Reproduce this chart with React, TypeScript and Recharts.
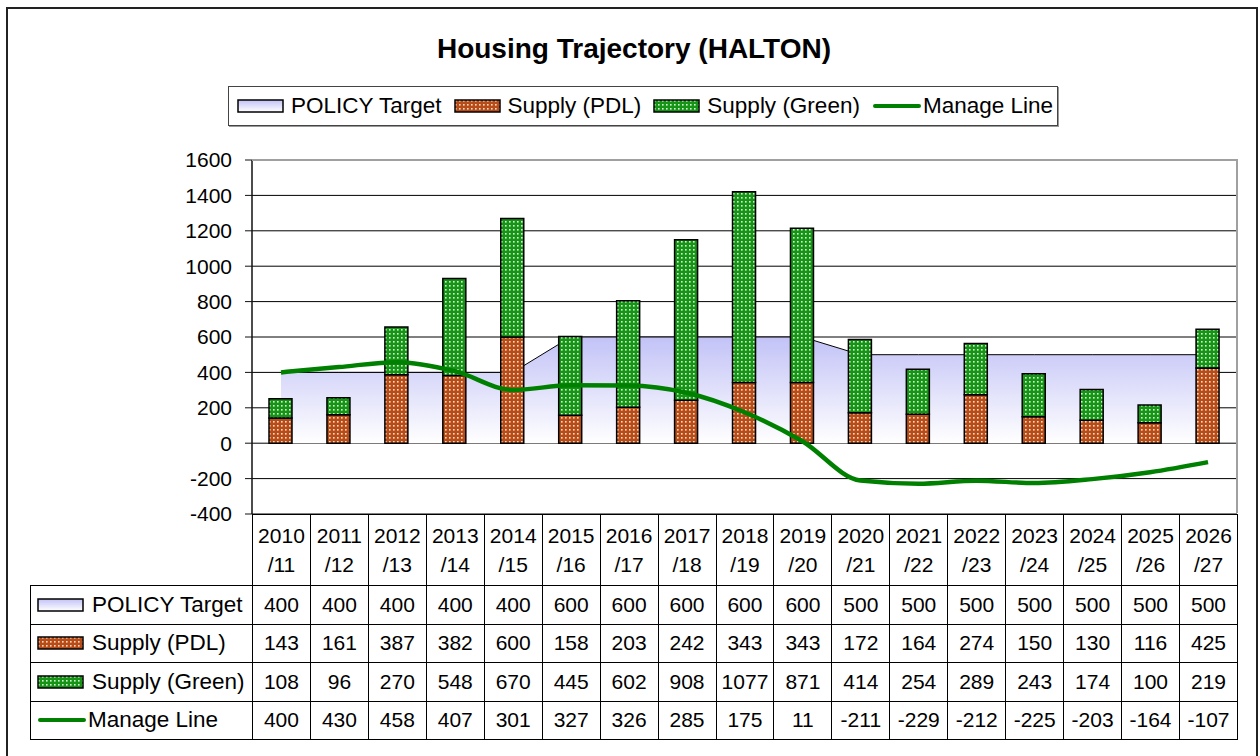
import { ComposedChart, Area, Bar, Line, XAxis, YAxis, CartesianGrid } from 'recharts'

const categories = [
  '2010/11', '2011/12', '2012/13', '2013/14', '2014/15', '2015/16', '2016/17', '2017/18', '2018/19',
  '2019/20', '2020/21', '2021/22', '2022/23', '2023/24', '2024/25', '2025/26', '2026/27',
]
const policyTarget = [400, 400, 400, 400, 400, 600, 600, 600, 600, 600, 500, 500, 500, 500, 500, 500, 500]
const supplyPDL = [143, 161, 387, 382, 600, 158, 203, 242, 343, 343, 172, 164, 274, 150, 130, 116, 425]
const supplyGreen = [108, 96, 270, 548, 670, 445, 602, 908, 1077, 871, 414, 254, 289, 243, 174, 100, 219]
const manageLine = [400, 430, 458, 407, 301, 327, 326, 285, 175, 11, -211, -229, -212, -225, -203, -164, -107]
const yTicks = [-400, -200, 0, 200, 400, 600, 800, 1000, 1200, 1400, 1600]

const data = categories.map((cat, i) => ({
  cat,
  policy: policyTarget[i],
  pdl:    supplyPDL[i],
  green:  supplyGreen[i],
  manage: manageLine[i],
}))

const FONT = '"Liberation Sans", Arial, Helvetica, sans-serif'
const PLOT_LEFT = 252
const PLOT_RIGHT = 1237
const PLOT_TOP = 160
const PLOT_BOTTOM = 514
const Y_W = 80
const COL_W = (PLOT_RIGHT - PLOT_LEFT) / categories.length
const LEGEND_COL = PLOT_LEFT - 30

type Kind = 'policy' | 'pdl' | 'green' | 'line'

const series: { kind: Kind, name: string, values: number[] }[] = [
  { kind: 'policy', name: 'POLICY Target',  values: policyTarget },
  { kind: 'pdl',    name: 'Supply (PDL)',   values: supplyPDL },
  { kind: 'green',  name: 'Supply (Green)', values: supplyGreen },
  { kind: 'line',   name: 'Manage Line',    values: manageLine },
]

function Swatch({ kind }: { kind: Kind }) {
  if (kind === 'line') {
    return (
      <svg width={50} height={14} style={{ display: 'block', flex: 'none' }}>
        <line x1={3} y1={7} x2={47} y2={7} stroke="#008000" strokeWidth={4} strokeLinecap="round" />
      </svg>
    )
  }
  const fill = kind === 'policy' ? 'url(#policyFill)' : kind === 'pdl' ? 'url(#pdlDots)' : 'url(#greenDots)'
  return (
    <svg width={48} height={14} style={{ display: 'block', flex: 'none' }}>
      <rect x={1} y={1} width={45} height={12} fill={fill} stroke="#000" strokeWidth={1.5} />
    </svg>
  )
}

const cellBorder = '1px solid #000'

export default function App() {
  return (
    <div style={{ position: 'absolute', left: 0, top: 0, width: 1260, height: 756, overflow: 'hidden', background: '#fff', fontFamily: FONT, color: '#000' }}>
      <svg width={0} height={0} style={{ position: 'absolute' }}>
        <defs>
          <linearGradient id="policyFill" x1="0" y1="0" x2="0" y2="1">
            <stop offset="0%" stopColor="#c2c2f7" />
            <stop offset="100%" stopColor="#ffffff" />
          </linearGradient>
          <pattern id="pdlDots" width="4" height="4" patternUnits="userSpaceOnUse">
            <rect width="4" height="4" fill="#b84c18" />
            <rect x="1" y="1" width="1.6" height="1.6" fill="#f7dcc6" />
          </pattern>
          <pattern id="greenDots" width="4" height="4" patternUnits="userSpaceOnUse">
            <rect width="4" height="4" fill="#169416" />
            <rect x="1" y="1" width="1.6" height="1.6" fill="#d4f7d4" />
          </pattern>
        </defs>
      </svg>

      {/* outer chart frame */}
      <div style={{ position: 'absolute', left: 6, top: 7, width: 1252, height: 760, border: '2px solid #222', boxSizing: 'border-box' }} />

      <div style={{ position: 'absolute', left: 4, top: 33, width: 1260, textAlign: 'center', fontSize: 28, fontWeight: 'bold', lineHeight: '32px' }}>
        Housing Trajectory (HALTON)
      </div>

      <div style={{
        position: 'absolute', left: 228, top: 86, width: 830, height: 40, boxSizing: 'border-box',
        border: '1px solid #444', boxShadow: '1px 1px 0 #999', display: 'flex', alignItems: 'center',
        paddingLeft: 8, fontSize: 22.5, whiteSpace: 'nowrap',
      }}>
        {series.map(s => (
          <div key={s.kind} style={{ display: 'flex', alignItems: 'center', marginRight: 12 }}>
            <Swatch kind={s.kind} />
            <span style={{ marginLeft: s.kind === 'line' ? 1 : 6 }}>{s.name}</span>
          </div>
        ))}
      </div>

      <div style={{ position: 'absolute', left: 0, top: 0 }}>
        <ComposedChart
          width={1260}
          height={756}
          data={data}
          margin={{ top: PLOT_TOP, bottom: 756 - PLOT_BOTTOM, left: PLOT_LEFT - Y_W, right: 1260 - PLOT_RIGHT }}
        >
          <CartesianGrid horizontal vertical={false} stroke="#000" strokeWidth={1} />
          <XAxis dataKey="cat" hide />
          <YAxis
            width={Y_W}
            domain={[-400, 1600]}
            ticks={yTicks}
            interval={0}
            tickSize={7}
            tickMargin={13}
            axisLine={{ stroke: '#111', strokeWidth: 1.5 }}
            tickLine={{ stroke: '#111' }}
            tick={{ fill: '#000', fontSize: 21, fontFamily: FONT }}
          />
          <Area
            type="linear"
            dataKey="policy"
            baseValue={0}
            stroke="#000"
            strokeWidth={1}
            fill="url(#policyFill)"
            fillOpacity={1}
            isAnimationActive={false}
          />
          <Bar dataKey="pdl" stackId="s" barSize={23} fill="url(#pdlDots)" stroke="#000" strokeWidth={1.5} isAnimationActive={false} />
          <Bar dataKey="green" stackId="s" barSize={23} fill="url(#greenDots)" stroke="#000" strokeWidth={1.5} isAnimationActive={false} />
          <Line
            type="monotone"
            dataKey="manage"
            stroke="#008000"
            strokeWidth={4.5}
            dot={false}
            activeDot={false}
            isAnimationActive={false}
          />
        </ComposedChart>
      </div>

      {/* plot area frame (top and right edges) */}
      <div style={{
        position: 'absolute', left: PLOT_LEFT, top: PLOT_TOP - 1, width: PLOT_RIGHT - PLOT_LEFT + 1,
        height: PLOT_BOTTOM - PLOT_TOP, borderTop: '2px solid #a0a0a0', borderRight: '2px solid #a0a0a0',
        boxSizing: 'border-box', pointerEvents: 'none',
      }} />

      <table style={{
        position: 'absolute', left: 30, top: PLOT_BOTTOM, width: PLOT_RIGHT - 30 + 1,
        borderCollapse: 'collapse', tableLayout: 'fixed', fontSize: 21, fontFamily: FONT,
      }}>
        <colgroup>
          <col style={{ width: LEGEND_COL }} />
          {categories.map(c => <col key={c} style={{ width: COL_W }} />)}
        </colgroup>
        <tbody>
          <tr style={{ height: 71 }}>
            <td style={{ border: 'none', padding: 0 }} />
            {categories.map(c => {
              const [yr, rest] = c.split('/')
              return (
                <td key={c} style={{ border: cellBorder, padding: 0, textAlign: 'center', lineHeight: '29px' }}>
                  {yr}<br />/{rest}
                </td>
              )
            })}
          </tr>
          {series.map(s => (
            <tr key={s.kind} style={{ height: 38.5 }}>
              <td style={{ border: cellBorder, padding: '0 0 0 6px', whiteSpace: 'nowrap', overflow: 'hidden' }}>
                <div style={{ display: 'flex', alignItems: 'center', fontSize: 22.5 }}>
                  <Swatch kind={s.kind} />
                  <span style={{ marginLeft: s.kind === 'line' ? 1 : 7 }}>{s.name}</span>
                </div>
              </td>
              {s.values.map((v, i) => (
                <td key={i} style={{ border: cellBorder, padding: 0, textAlign: 'center' }}>{v}</td>
              ))}
            </tr>
          ))}
        </tbody>
      </table>
    </div>
  )
}
